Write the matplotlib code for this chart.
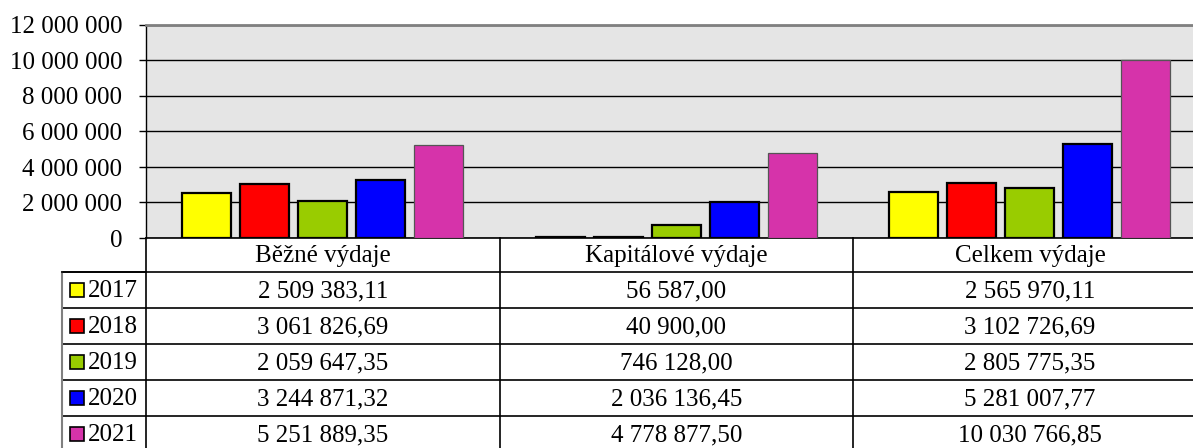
import matplotlib
matplotlib.use("Agg")
import matplotlib.pyplot as plt
from matplotlib.patches import Rectangle
from matplotlib.lines import Line2D

plt.rcParams['font.family'] = ['Liberation Serif', 'DejaVu Serif']

categories = ["Běžné výdaje", "Kapitálové výdaje", "Celkem výdaje"]
years = ["2017", "2018", "2019", "2020", "2021"]
values_2017 = [2509383.11, 56587.00, 2565970.11]
values_2018 = [3061826.69, 40900.00, 3102726.69]
values_2019 = [2059647.35, 746128.00, 2805775.35]
values_2020 = [3244871.32, 2036136.45, 5281007.77]
values_2021 = [5251889.35, 4778877.50, 10030766.85]
series = [values_2017, values_2018, values_2019, values_2020, values_2021]
colors = ["#ffff00", "#ff0000", "#99cc00", "#0000ff", "#d633aa"]
edges = ["black", "black", "black", "black", "#555555"]
edge_w = [1.6, 1.6, 1.6, 1.6, 0.9]
yticks = [0, 2000000, 4000000, 6000000, 8000000, 10000000, 12000000]


def fmt(v, dec=2):
    s = f"{v:,.{dec}f}"
    return s.replace(",", " ").replace(".", ",")


W, H = 1193, 448
fig = plt.figure(figsize=(W / 100, H / 100), dpi=100)

x0, x1 = 146, 1206.5
ytop, ybot = 25, 238
ax = fig.add_axes([x0 / W, (H - ybot) / H, (x1 - x0) / W, (ybot - ytop) / H])
ax.set_facecolor("#e5e5e5")
ax.set_xlim(-0.5, 2.5)
ax.set_ylim(0, 12000000)

bw = 49 / 353.5
step = 58 / 353.5
for i, (vals, c, ec, lw) in enumerate(zip(series, colors, edges, edge_w)):
    xs = [k + (i - 2) * step for k in range(len(categories))]
    ax.bar(xs, vals, width=bw, color=c, edgecolor=ec, linewidth=lw, zorder=3)

ax.set_yticks(yticks)
ax.set_yticklabels([fmt(v, 0) if v else "0" for v in yticks], fontsize=18)
ax.tick_params(axis='y', length=5, width=1, pad=12, direction='out', color='black')
ax.set_xticks([])
ax.yaxis.grid(True, color='black', linewidth=1.0, zorder=1)
ax.set_axisbelow(True)
for s in ["right"]:
    ax.spines[s].set_visible(False)
ax.spines["top"].set_color("#808080")
ax.spines["top"].set_linewidth(2)
ax.spines["left"].set_color("black")
ax.spines["left"].set_linewidth(1)
ax.spines["bottom"].set_color("black")
ax.spines["bottom"].set_linewidth(1.2)

# table overlay in pixel coordinates
tab = fig.add_axes([0, 0, 1, 1], facecolor='none')
tab.set_xlim(0, W)
tab.set_ylim(H, 0)
tab.axis('off')

col_edges = [146, 500, 853, 1207]
row_edges = [238, 272, 308, 344, 380, 416, 452]
left_x = 62
lc = "black"
# header text
for j, cat in enumerate(categories):
    cx = (col_edges[j] + col_edges[j + 1]) / 2
    tab.text(cx, (row_edges[0] + row_edges[1]) / 2 + 1, cat, ha='center', va='center', fontsize=18)
# horizontal lines
for y in row_edges[1:-1]:
    tab.add_line(Line2D([left_x, W], [y, y], color=lc, lw=1.2))
# vertical lines
for x in col_edges[:3]:
    tab.add_line(Line2D([x, x], [row_edges[0], H], color=lc, lw=1.2))
tab.add_line(Line2D([left_x, left_x], [row_edges[1], H], color="#808080", lw=1.5))
tab.add_line(Line2D([left_x, x0], [272, 272], color=lc, lw=1.2))

for r, (yr, vals, c) in enumerate(zip(years, series, colors)):
    yc = (row_edges[r + 1] + row_edges[r + 2]) / 2 if r < 4 else 434
    yc = row_edges[r + 1] + 18
    tab.add_patch(Rectangle((70, yc - 7), 14, 14, facecolor=c, edgecolor='black', lw=1.2))
    tab.text(88, yc + 1, yr, ha='left', va='center', fontsize=18)
    for j, v in enumerate(vals):
        cx = (col_edges[j] + col_edges[j + 1]) / 2
        tab.text(cx, yc + 1, fmt(v), ha='center', va='center', fontsize=18)

fig.savefig("out.png", dpi=100)
